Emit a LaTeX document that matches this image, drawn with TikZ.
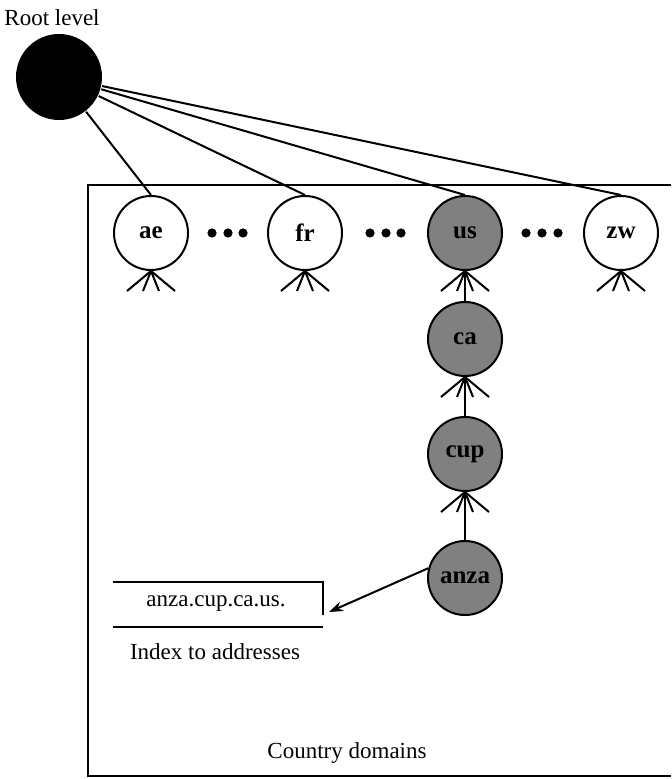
\documentclass[tikz,border=0pt]{standalone}
\usepackage{fontspec}
\setmainfont{Liberation Serif}
\usepackage{tikz}
\usetikzlibrary{arrows.meta}

\tikzset{
  dom/.style={circle,draw,line width=1pt,minimum size=37pt,inner sep=0pt,
    font=\fontsize{12.5}{14}\selectfont\bfseries},
  subdom/.style={dom,fill=black!50},
  txt/.style={font=\fontsize{11.5}{13}\selectfont},
}

\begin{document}
\begin{tikzpicture}[x=0.5pt,y=-0.5pt,line width=1pt]
  \useasboundingbox (0,0) rectangle (671,779);
  % frame of the country domains
  \draw[line width=1.3pt] (671,185) -- (88,185) -- (88,776) -- (671,776);
  \node[txt] (rootlbl) at (52,18) {Root level};
  \node[circle,fill=black,minimum size=43pt,inner sep=0pt] (root) at (59,77) {};
  \node[dom] (ae) at (151,233) {ae};
  \node[dom] (fr) at (305,233) {fr};
  \node[subdom] (us) at (465,233) {us};
  \node[dom] (zw) at (621,233) {zw};
  \node[subdom] (ca) at (465,339) {ca};
  \node[subdom] (cup) at (465,454) {cup};
  \node[subdom] (anza) at (465,578) {anza};
  \foreach \n in {ae,fr,us,zw} {
    \draw (root) -- (\n.north);
  }
  \foreach \x in {212,228,243, 370,386,401, 526,542,558} {
    \fill (\x,233) circle (2.3pt);
  }
  % several children below each domain
  \foreach \n in {ae,fr,us,zw,ca,cup} {
    \foreach \dx in {-24,-8,8,24} {
      \draw (\n.south) -- ++(\dx,20);
    }
  }
  \draw (ca) -- (us);
  \draw (cup) -- (ca);
  \draw (anza) -- (cup);
  % index entry
  \node[txt] (idx) at (216,604) {anza.cup.ca.us.};
  \draw (113,582) -- (323,582) -- (323,615);
  \draw (113,627) -- (323,627);
  \coordinate (idxtip) at (329,612);
  \draw[-{Stealth[length=7pt,width=5pt]}] (anza.165) -- (idxtip);
  \node[txt] (idxlbl) at (215,652) {Index to addresses};
  \node[txt] (country) at (347,753) {Country domains};
\end{tikzpicture}
\end{document}
